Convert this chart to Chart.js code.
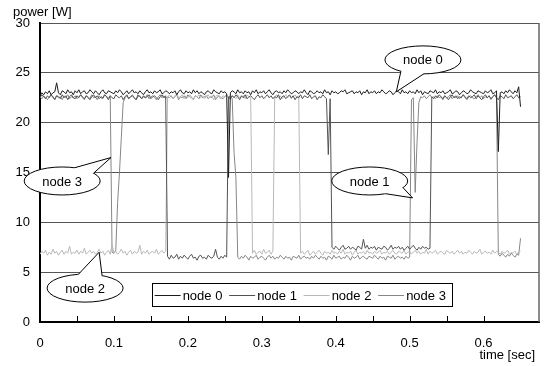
<!DOCTYPE html>
<html>
<head>
<meta charset="utf-8">
<script src="https://cdn.jsdelivr.net/npm/chart.js@4.4.0/dist/chart.umd.min.js"></script>
<style>html,body{margin:0;padding:0;background:#fff}</style>
</head>
<body>
<canvas id="powerChart" width="544" height="366"></canvas>
<script>
// power samples every 2.5 ms
const timeStep = 0.0025;

const node0 = [
  22.7, 23.0, 22.8, 23.1, 22.9, 23.2, 22.8, 23.0, 23.1, 24.0,
  23.0, 22.8, 23.2, 23.1, 22.9, 23.3, 23.0, 23.1, 22.8, 23.2,
  23.0, 23.3, 22.9, 23.1, 23.2, 22.9, 23.0, 23.3, 23.1, 22.9,
  23.2, 23.0, 22.8, 23.1, 23.3, 23.0, 22.9, 23.2, 23.1, 23.0,
  22.9, 23.2, 23.0, 23.3, 23.1, 22.8, 23.0, 23.2, 22.9, 23.1,
  23.3, 23.0, 23.1, 22.9, 23.2, 23.0, 22.8, 23.1, 23.3, 23.0,
  23.1, 22.9, 23.2, 23.0, 23.1, 23.3, 22.9, 23.0, 23.2, 23.1,
  22.9, 23.1, 23.0, 23.2, 22.8, 23.1, 23.3, 23.0, 22.9, 23.2,
  23.0, 23.1, 22.9, 23.3, 23.0, 23.2, 22.9, 23.1, 23.0, 22.8,
  23.1, 23.2, 23.0, 22.9, 23.3, 23.1, 23.0, 22.9, 23.2, 23.0,
  23.1, 22.9, 14.5, 23.0, 23.2, 23.1, 22.9, 23.3, 23.0, 23.1,
  22.9, 23.2, 23.0, 23.1, 22.8, 23.2, 23.0, 23.3, 22.9, 23.1,
  23.0, 23.2, 22.9, 23.1, 23.3, 23.0, 22.8, 23.1, 23.2, 23.0,
  23.1, 22.9, 23.2, 23.0, 23.3, 23.1, 22.9, 23.0, 23.2, 23.1,
  22.9, 23.1, 23.0, 23.3, 23.0, 22.8, 23.2, 23.1, 22.9, 23.0,
  23.2, 23.0, 23.1, 22.9, 23.3, 23.0, 23.1, 22.8, 23.2, 23.0,
  23.1, 22.9, 23.0, 23.2, 23.1, 23.3, 22.9, 23.0, 23.1, 23.2,
  22.9, 23.1, 23.0, 23.2, 22.8, 23.1, 23.0, 23.3, 22.9, 23.1,
  23.0, 23.2, 22.9, 23.1, 23.0, 23.3, 23.1, 22.9, 23.0, 23.2,
  23.1, 22.8, 23.0, 23.2, 23.1, 22.9, 23.3, 23.0, 23.1, 22.9,
  23.2, 23.0, 23.1, 22.9, 23.3, 23.0, 23.2, 22.8, 23.1, 23.0,
  22.9, 23.2, 23.1, 23.0, 23.3, 22.9, 23.1, 23.0, 23.2, 22.9,
  23.0, 23.1, 23.3, 22.9, 23.0, 23.2, 23.1, 22.8, 23.0, 23.2,
  23.1, 22.9, 23.0, 23.3, 23.1, 23.0, 22.9, 23.2, 23.1, 23.0,
  22.9, 23.2, 23.0, 23.1, 23.3, 22.9, 23.0, 23.2, 17.1, 23.0,
  23.1, 22.9, 23.2, 23.0, 23.3, 23.1, 22.9, 23.2, 23.0, 23.6,
  21.6
];

const node1 = [
  22.5, 22.8, 22.6, 22.4, 22.7, 22.5, 22.8, 22.6, 22.3, 22.7,
  22.6, 22.4, 22.8, 22.5, 22.7, 22.3, 22.6, 22.8, 22.5, 22.4,
  22.7, 22.5, 22.8, 22.6, 22.4, 22.7, 22.5, 22.3, 22.6, 22.8,
  22.5, 22.7, 22.4, 22.6, 22.5, 22.8, 22.6, 22.3, 22.7, 22.5,
  22.4, 22.8, 22.6, 22.5, 22.7, 22.3, 22.6, 22.8, 22.4, 22.6,
  22.7, 22.5, 22.3, 22.8, 22.6, 22.4, 22.7, 22.5, 22.6, 22.8,
  22.4, 22.6, 22.7, 22.5, 22.3, 22.6, 22.8, 22.5, 22.7,
  6.6, 6.3, 6.7, 6.4, 6.5, 6.8, 6.3, 6.6, 6.4, 6.7,
  6.5, 6.3, 6.6, 6.8, 6.4, 6.5, 6.2, 6.6, 6.7, 6.4,
  6.5, 6.3, 6.7, 6.5, 6.4, 6.6, 7.3, 6.5, 6.3, 6.6,
  6.4, 6.7, 6.5,
  22.6, 22.4, 22.7, 22.5, 22.8, 22.6, 22.3, 22.7, 22.5, 22.8,
  22.4, 22.6, 22.7, 22.5, 22.3, 22.6, 22.8, 22.5, 22.7, 22.4,
  22.6, 22.8, 22.5, 22.7, 22.4, 22.6, 22.5, 22.8, 22.3, 22.6,
  22.7, 22.4, 22.6, 22.8, 22.5, 22.7, 22.3, 22.6, 22.5, 22.8,
  22.4, 22.7, 22.6, 22.5, 22.8, 22.4, 22.6, 22.7, 22.3, 22.6,
  22.5, 22.8, 22.6, 22.4,
  16.8, 22.4,
  7.5, 7.3, 7.6, 7.4, 7.2, 7.5, 7.7, 7.3, 7.4, 7.6,
  7.3, 7.5, 7.4, 7.2, 7.6, 7.5, 7.3, 8.3, 7.4, 7.7,
  7.3, 7.5, 7.4, 7.6, 7.2, 7.5, 7.4, 7.3, 7.6, 7.5,
  7.2, 7.4, 7.7, 7.3, 7.5, 7.4, 7.6, 7.3, 7.5, 7.2,
  7.4, 7.6, 7.3, 7.5, 7.7, 7.4, 7.2, 7.5, 7.3, 7.6,
  7.4, 7.5, 7.3, 7.4,
  22.6, 22.4, 22.7, 22.5, 22.8, 22.6, 22.4, 22.7, 22.5, 22.3,
  22.6, 22.8, 22.5, 22.7, 22.4, 22.6, 22.5, 22.8, 22.6, 22.4,
  22.7, 22.5, 22.6, 22.8, 22.4, 22.7, 22.5, 22.3, 22.6, 22.8,
  22.5, 22.7, 22.4, 22.6, 22.8, 22.5, 22.3, 22.7, 22.6, 22.4,
  22.8, 22.5, 22.6, 22.7, 22.4, 22.6, 22.8, 22.5, 22.6
];

const node2 = [
  6.8, 7.1, 6.9, 7.2, 6.7, 7.0, 6.8, 7.3, 6.9, 7.1,
  6.7, 7.0, 7.2, 6.8, 7.1, 6.9, 7.6, 6.8, 7.0, 6.9,
  7.2, 6.8, 7.1, 6.9, 7.4, 6.8, 7.0, 7.2, 6.9, 7.1,
  6.8, 7.0, 7.3, 6.9, 7.1, 6.7, 7.0, 7.2, 6.8, 7.8,
  6.9, 7.1, 6.8, 7.0, 7.3, 6.9, 7.1, 6.7, 7.0, 7.2,
  6.8, 7.1, 6.9, 7.0, 7.7, 6.8, 7.1, 6.9, 7.2, 6.8,
  7.0, 7.1, 6.9, 7.3, 6.8, 7.0, 7.2, 6.9, 7.1,
  22.5, 22.8, 22.6, 22.4, 22.7, 22.9, 22.5, 22.6, 22.8, 22.4,
  22.7, 22.5, 22.8, 22.6, 22.3, 22.7, 22.6, 22.8, 22.5, 22.7,
  22.4, 22.6, 22.8, 22.5, 22.7, 22.3, 22.6, 22.8, 22.5, 22.4,
  22.7, 22.6, 22.8, 22.5, 22.3, 22.7, 22.6, 22.4, 22.8, 22.5,
  22.6, 22.7, 22.4, 22.8, 22.6, 22.5,
  6.9, 7.2, 6.8, 7.0, 7.1, 6.8, 7.3, 6.9, 7.0, 7.2, 6.8, 7.1,
  22.6, 22.8, 22.5, 22.7, 22.4, 22.6, 22.8, 22.5, 22.7, 22.4, 22.6, 22.8, 22.5, 22.7,
  6.9, 7.1, 6.8, 7.0, 7.2, 6.7, 6.9, 7.1, 6.8, 7.0,
  7.2, 6.9, 6.7, 7.1, 6.9, 7.0, 6.8, 7.2, 6.9, 7.0,
  6.8, 7.1, 6.9, 7.3, 6.8, 7.0, 6.9, 7.1, 6.7, 7.0,
  7.2, 6.8, 7.0, 6.9, 7.1, 6.8, 7.2, 6.9, 7.0, 6.8,
  7.1, 6.9, 7.0, 7.2, 6.8, 7.0, 6.9, 7.1, 6.8, 7.0,
  7.2, 6.9, 6.8, 7.1, 7.0, 6.9, 7.2, 6.8, 7.0, 7.1,
  6.8, 7.0, 7.2, 6.9, 7.1, 6.8, 7.0, 6.9, 7.3, 6.8,
  7.1, 6.9, 7.0, 7.2, 6.8, 7.0, 7.1, 6.9, 6.8, 7.2,
  7.0, 6.9, 7.1, 6.8, 7.0, 7.2, 6.9, 7.1, 6.8, 7.0,
  6.9, 7.2, 7.0, 6.8, 7.1, 6.9, 7.0, 7.3, 6.8, 7.0,
  7.1, 6.9, 7.0, 6.8, 7.2, 6.9, 7.1, 7.0, 6.8, 7.1,
  6.9, 7.0, 7.2, 6.8, 7.0, 6.9, 7.1, 6.8, 7.0, 7.1
];

const node3 = [
  22.6, 22.4, 22.7, 22.5, 22.3, 22.6, 22.8, 22.5, 22.4, 22.7,
  22.5, 22.6, 22.3, 22.7, 22.5, 22.8, 22.4, 22.6, 22.5, 22.7,
  22.4, 22.6, 22.8, 22.5, 22.3, 22.7, 22.6, 22.4, 22.8, 22.5,
  22.6, 22.3, 22.7, 22.5, 22.4, 22.8, 22.6, 22.5, 22.7,
  7.0, 6.9, 7.2, 12.0, 15.0, 18.5, 22.0,
  22.5, 22.7, 22.4, 22.6, 22.8, 22.5, 22.3, 22.6, 22.7, 22.4,
  22.6, 22.5, 22.8, 22.4, 22.6, 22.7, 22.5, 22.3, 22.6, 22.8,
  22.5, 22.7, 22.4, 22.6, 22.5, 22.7, 22.4, 22.6, 22.8, 22.3,
  22.6, 22.5, 22.7, 22.4, 22.8, 22.6, 22.5, 22.3, 22.7, 22.6,
  22.4, 22.8, 22.5, 22.6, 22.7, 22.4, 22.6, 22.5, 22.8, 22.3,
  22.6, 22.7, 22.5, 22.4, 22.6, 22.8, 22.5, 22.7, 22.4,
  17.0, 14.5,
  6.5, 6.3, 6.6, 6.4, 6.7, 6.5, 6.2, 6.6, 6.4, 6.5,
  6.7, 6.3, 6.5, 6.6, 6.4, 6.2, 6.5, 6.7, 6.4, 6.6,
  6.3, 6.5, 6.4, 6.7, 6.5, 6.3, 6.6, 6.4, 6.5, 6.2,
  6.6, 6.5, 6.4, 6.7, 6.3, 6.5, 6.6, 6.4, 6.5, 6.3,
  6.6, 6.4, 6.7, 6.5, 6.3, 6.6, 6.4, 6.5, 6.2, 6.6,
  6.5, 6.3, 6.7, 6.4, 6.5, 6.6, 6.3, 6.5, 6.4, 6.7,
  6.5, 6.2, 6.6, 6.4, 6.5, 6.7, 6.3, 6.5, 6.6, 6.4,
  6.3, 6.6, 6.5, 6.4, 6.7, 6.5, 6.3, 6.6, 6.4, 6.5,
  6.2, 6.6, 6.5, 6.4, 6.7, 6.3, 6.5, 6.6, 6.4, 6.5,
  6.3, 6.6, 6.4, 6.5,
  22.3, 22.5, 13.0, 18.0, 22.0,
  22.6, 22.5, 22.7, 22.4, 22.6, 22.8, 22.5, 22.6, 22.4, 22.7,
  22.5, 22.6, 22.3, 22.7, 22.5, 22.6, 22.8, 22.4, 22.6, 22.5,
  22.7, 22.4, 22.6, 22.8, 22.5, 22.3, 22.6, 22.7, 22.5, 22.4,
  22.6, 22.8, 22.5, 22.7, 22.4, 22.6, 22.5, 22.7, 22.3, 22.6,
  22.8, 22.5,
  6.8, 6.6, 6.9, 6.7, 6.5, 6.8, 6.6, 6.9, 6.7, 6.5, 6.8, 6.7,
  8.4
];

const seriesNames = ['node 0', 'node 1', 'node 2', 'node 3'];
const seriesColors = ['#1c1c1c', '#525252', '#b8b8b8', '#868686'];
const yTicks = [0, 5, 10, 15, 20, 25, 30];

// callouts: centre and tip in data units
const callouts = [
  { text: 'node 0', t: 0.518, v: 26.3, tipT: 0.482, tipV: 23.1 },
  { text: 'node 1', t: 0.446, v: 14.15, tipT: 0.504, tipV: 12.45 },
  { text: 'node 2', t: 0.061, v: 3.4, tipT: 0.080, tipV: 7.0 },
  { text: 'node 3', t: 0.030, v: 14.15, tipT: 0.096, tipV: 16.5 }
];

const font = '"Liberation Sans", Arial, sans-serif';

function toPoints(values) {
  return values.map((v, i) => ({ x: i * timeStep, y: v }));
}

const extras = {
  id: 'extras',
  afterDatasetsDraw(chart) {
    const { ctx, chartArea: a, scales: { x, y } } = chart;
    ctx.save();

    // right frame
    ctx.strokeStyle = '#666';
    ctx.lineWidth = 1.5;
    ctx.beginPath();
    ctx.moveTo(a.right, a.top);
    ctx.lineTo(a.right, a.bottom);
    ctx.stroke();

    // inside tick marks on the time axis
    ctx.strokeStyle = '#000';
    ctx.lineWidth = 1;
    x.ticks.forEach(t => {
      const px = Math.round(x.getPixelForValue(t.value)) + 0.5;
      ctx.beginPath();
      ctx.moveTo(px, a.bottom);
      ctx.lineTo(px, a.bottom - 6);
      ctx.stroke();
    });

    // callouts
    ctx.font = '13px ' + font;
    callouts.forEach(c => {
      const cx = x.getPixelForValue(c.t), cy = y.getPixelForValue(c.v);
      const tx = x.getPixelForValue(c.tipT), ty = y.getPixelForValue(c.tipV);
      const rx = 38, ry = 14;
      const ang = Math.atan2((ty - cy) / ry, (tx - cx) / rx);
      const d = 0.32;
      const e1 = [cx + rx * Math.cos(ang - d), cy + ry * Math.sin(ang - d)];
      const e2 = [cx + rx * Math.cos(ang + d), cy + ry * Math.sin(ang + d)];
      const i1 = [cx + rx * 0.8 * Math.cos(ang - d), cy + ry * 0.8 * Math.sin(ang - d)];
      const i2 = [cx + rx * 0.8 * Math.cos(ang + d), cy + ry * 0.8 * Math.sin(ang + d)];

      ctx.beginPath();
      ctx.ellipse(cx, cy, rx, ry, 0, 0, Math.PI * 2);
      ctx.fillStyle = '#fff';
      ctx.fill();
      ctx.strokeStyle = '#000';
      ctx.lineWidth = 1;
      ctx.stroke();

      ctx.beginPath();
      ctx.moveTo(e1[0], e1[1]);
      ctx.lineTo(tx, ty);
      ctx.lineTo(e2[0], e2[1]);
      ctx.lineTo(i2[0], i2[1]);
      ctx.lineTo(i1[0], i1[1]);
      ctx.closePath();
      ctx.fill();
      ctx.beginPath();
      ctx.moveTo(e1[0], e1[1]);
      ctx.lineTo(tx, ty);
      ctx.lineTo(e2[0], e2[1]);
      ctx.stroke();

      ctx.fillStyle = '#000';
      ctx.textAlign = 'center';
      ctx.textBaseline = 'middle';
      ctx.fillText(c.text, cx, cy + 1);
    });

    // legend box inside the plot
    const lx = x.getPixelForValue(0.151), ly = y.getPixelForValue(3.9);
    const lw = 300, lh = 23;
    ctx.fillStyle = '#fff';
    ctx.fillRect(lx, ly, lw, lh);
    ctx.strokeStyle = '#000';
    ctx.lineWidth = 1;
    ctx.strokeRect(Math.round(lx) + 0.5, Math.round(ly) + 0.5, lw, lh);
    ctx.textAlign = 'left';
    ctx.textBaseline = 'middle';
    seriesNames.forEach((name, k) => {
      const sx = lx + 3 + k * 74.5;
      const my = Math.round(ly + lh / 2) + 0.5;
      ctx.strokeStyle = seriesColors[k];
      ctx.beginPath();
      ctx.moveTo(sx, my);
      ctx.lineTo(sx + 26, my);
      ctx.stroke();
      ctx.fillStyle = '#000';
      ctx.fillText(name, sx + 28, my + 1);
    });

    // axis titles
    ctx.textBaseline = 'alphabetic';
    ctx.textAlign = 'left';
    ctx.fillText('power [W]', 13, 16);
    ctx.textAlign = 'right';
    ctx.fillText('time [sec]', 535, 359);
    ctx.restore();
  }
};

new Chart(document.getElementById('powerChart'), {
  type: 'line',
  data: {
    datasets: [node0, node1, node2, node3].map((vals, k) => ({
      label: seriesNames[k],
      data: toPoints(vals),
      borderColor: seriesColors[k],
      borderWidth: 1,
      pointRadius: 0,
      tension: 0,
      fill: false
    }))
  },
  options: {
    responsive: false,
    animation: false,
    layout: { padding: { top: 23, right: 5, left: 0, bottom: 0 } },
    plugins: { legend: { display: false }, tooltip: { enabled: false } },
    scales: {
      x: {
        type: 'linear',
        min: 0,
        max: 0.675,
        afterFit: s => { s.height = 44; },
        afterBuildTicks: s => {
          s.ticks = s.ticks.filter(t => Math.abs(t.value * 20 - Math.round(t.value * 20)) < 1e-6);
        },
        grid: { drawOnChartArea: false, drawTicks: false },
        border: { color: '#000', width: 2 },
        ticks: {
          stepSize: 0.05,
          autoSkip: false,
          maxRotation: 0,
          padding: 14,
          color: '#000',
          font: { family: font, size: 13 },
          callback: v => {
            if (Math.abs(v * 10 - Math.round(v * 10)) > 1e-6) return '';
            return v === 0 ? '0' : v.toFixed(1);
          }
        }
      },
      y: {
        min: yTicks[0],
        max: yTicks[yTicks.length - 1],
        afterFit: s => { s.width = 40; },
        afterBuildTicks: s => { s.ticks = yTicks.map(v => ({ value: v })); },
        grid: { color: '#555', lineWidth: 1, drawTicks: false },
        border: { color: '#000', width: 2 },
        ticks: {
          padding: 10,
          color: '#000',
          font: { family: font, size: 13 }
        }
      }
    }
  },
  plugins: [extras]
});
</script>
</body>
</html>
